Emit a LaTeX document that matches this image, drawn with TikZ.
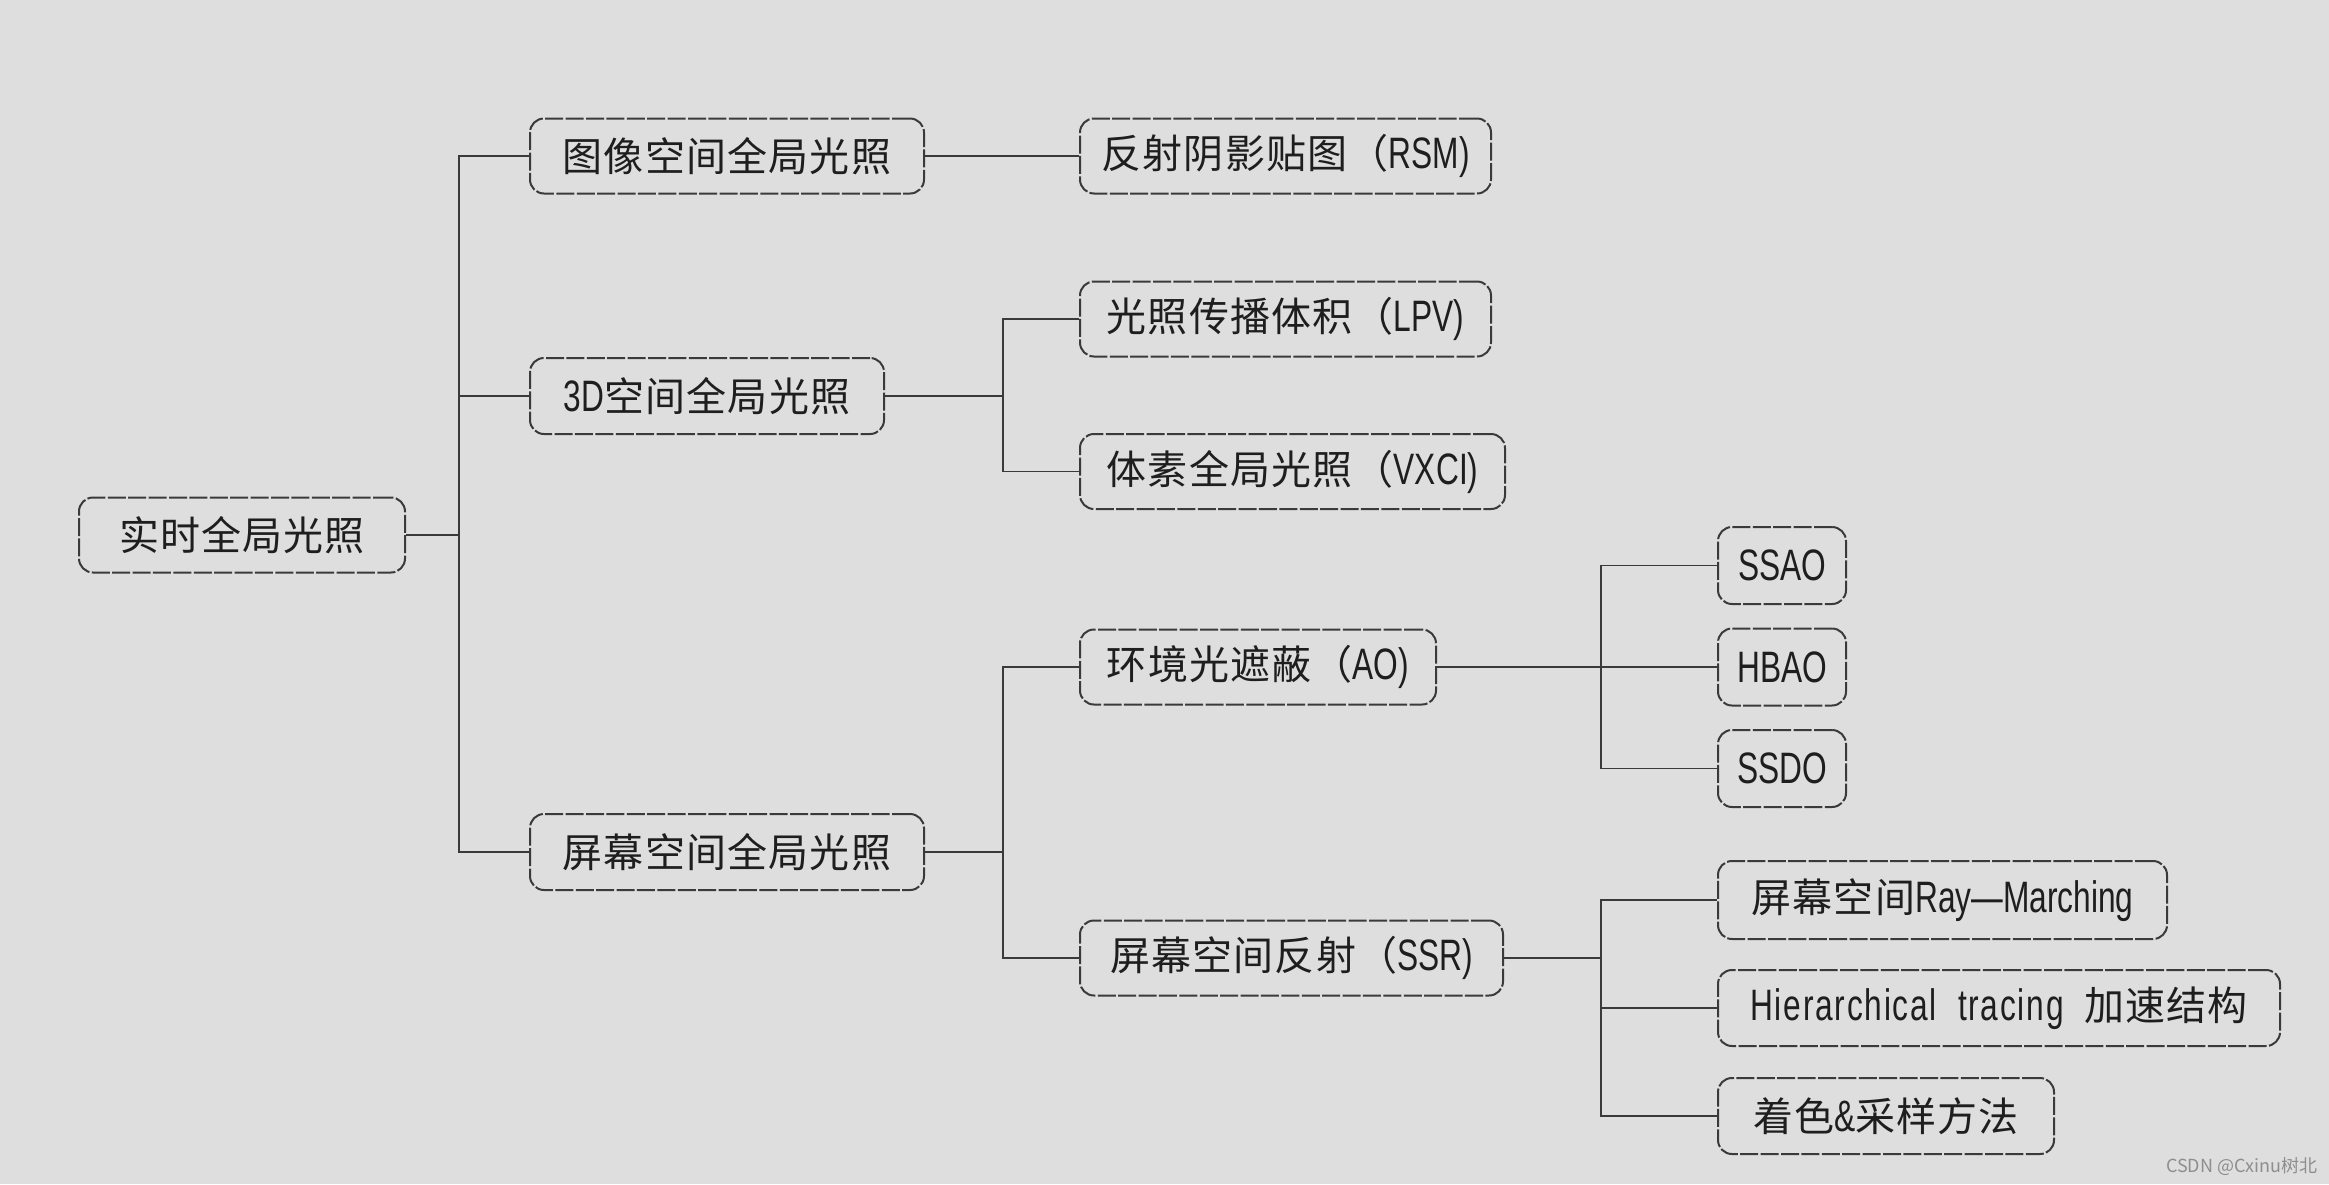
\documentclass[tikz,border=0pt]{standalone}
\usepackage{fontspec}
\setmainfont{Noto Sans CJK SC}[LetterSpace=3]
\newfontfamily\wmfont{Noto Sans CJK SC}
\newfontfamily\latfont[FakeStretch=0.72]{Liberation Sans}
\newfontfamily\latwfont[FakeStretch=0.72,LetterSpace=4]{Liberation Sans}
\newcommand\latxt[1]{{\latfont\fontsize{22pt}{26pt}\selectfont #1}}
\newcommand\latwtxt[1]{{\latwfont\fontsize{22pt}{26pt}\selectfont #1}}
\definecolor{bgcol}{HTML}{DEDEDE}
\definecolor{boxline}{HTML}{3A3A3A}
\definecolor{lineline}{HTML}{3A3A3A}
\definecolor{textcol}{HTML}{1E1E1E}
\definecolor{wmcol}{HTML}{8E8E8E}
\begin{document}
\begin{tikzpicture}[x=0.5pt,y=-0.5pt,
  box/.style={draw=boxline, line width=1pt, dash pattern=on 9pt off 1.2pt,
    rounded corners=7pt, inner sep=0pt, minimum height=37.5pt,
    font=\fontsize{20pt}{24pt}\selectfont, text=textcol},
  conn/.style={draw=lineline, line width=0.9pt}]
\fill[bgcol] (0,0) rectangle (2329,1184);
\useasboundingbox (0,0) rectangle (2329,1184);

% level 0
\node[box, minimum width=163pt] (root) at (242,535) {实时全局光照};
% level 1
\node[box, minimum width=197pt] (a1) at (727,156) {图像空间全局光照};
\node[box, minimum width=177pt, minimum height=38pt] (a2) at (707,396) {\latxt{3D}空间全局光照};
\node[box, minimum width=197pt, minimum height=38pt] (a3) at (727,852) {屏幕空间全局光照};
% level 2
\node[box, minimum width=205.5pt] (b1) at (1285.5,156) {反射阴影贴图（\latxt{RSM)}};
\node[box, minimum width=205.5pt] (b2) at (1285.5,319) {光照传播体积（\latxt{LPV)}};
\node[box, minimum width=212.5pt] (b3) at (1292.5,471.5) {体素全局光照（\latxt{VXCI)}};
\node[box, minimum width=178pt] (b4) at (1258,667) {环境光遮蔽（\latxt{AO)}};
\node[box, minimum width=211.5pt] (b5) at (1291.5,958) {屏幕空间反射（\latxt{SSR)}};
% level 3
\node[box, minimum width=64pt, minimum height=38.5pt] (c1) at (1782,565.5) {\latxt{SSAO}};
\node[box, minimum width=64pt, minimum height=38.5pt] (c2) at (1782,667) {\latxt{HBAO}};
\node[box, minimum width=64pt, minimum height=38.5pt] (c3) at (1782,768.5) {\latxt{SSDO}};
\node[box, minimum width=224.5pt, minimum height=39pt] (c4) at (1942.5,900) {屏幕空间\latxt{Ray—Marching}};
\node[box, minimum width=281pt, minimum height=38pt] (c5) at (1999,1008) {\latwtxt{Hierarchical\ \ tracing}\ \ 加速结构};
\node[box, minimum width=168pt, minimum height=38pt] (c6) at (1886,1116) {着色\latxt{\&}采样方法};

% trunk coordinates
\coordinate (t1) at (459,535);
\coordinate (t2) at (1003,396);
\coordinate (t3) at (1003,852);
\coordinate (t4) at (1601,667);
\coordinate (t5) at (1601,958);

% connectors
\draw[conn] (root.east) -- (t1);
\draw[conn] (a1.west) -- (a1.west -| t1) -- (a3.west -| t1) -- (a3.west);
\draw[conn] (a2.west) -- (a2.west -| t1);

\draw[conn] (a1.east) -- (b1.west);

\draw[conn] (a2.east) -- (t2);
\draw[conn] (b2.west) -- (b2.west -| t2) -- (b3.west -| t2) -- (b3.west);

\draw[conn] (a3.east) -- (t3);
\draw[conn] (b4.west) -- (b4.west -| t3) -- (b5.west -| t3) -- (b5.west);

\draw[conn] (b4.east) -- (c2.west);
\draw[conn] (c1.west) -- (c1.west -| t4) -- (c3.west -| t4) -- (c3.west);

\draw[conn] (b5.east) -- (t5);
\draw[conn] (c4.west) -- (c4.west -| t5) -- (c6.west -| t5) -- (c6.west);
\draw[conn] (c5.west) -- (c5.west -| t5);

% watermark
\node[anchor=east, text=wmcol, inner sep=0pt, font=\wmfont\fontsize{9pt}{10pt}\selectfont] (wm) at (2318,1166) {CSDN @Cxinu树北};
\end{tikzpicture}
\end{document}
